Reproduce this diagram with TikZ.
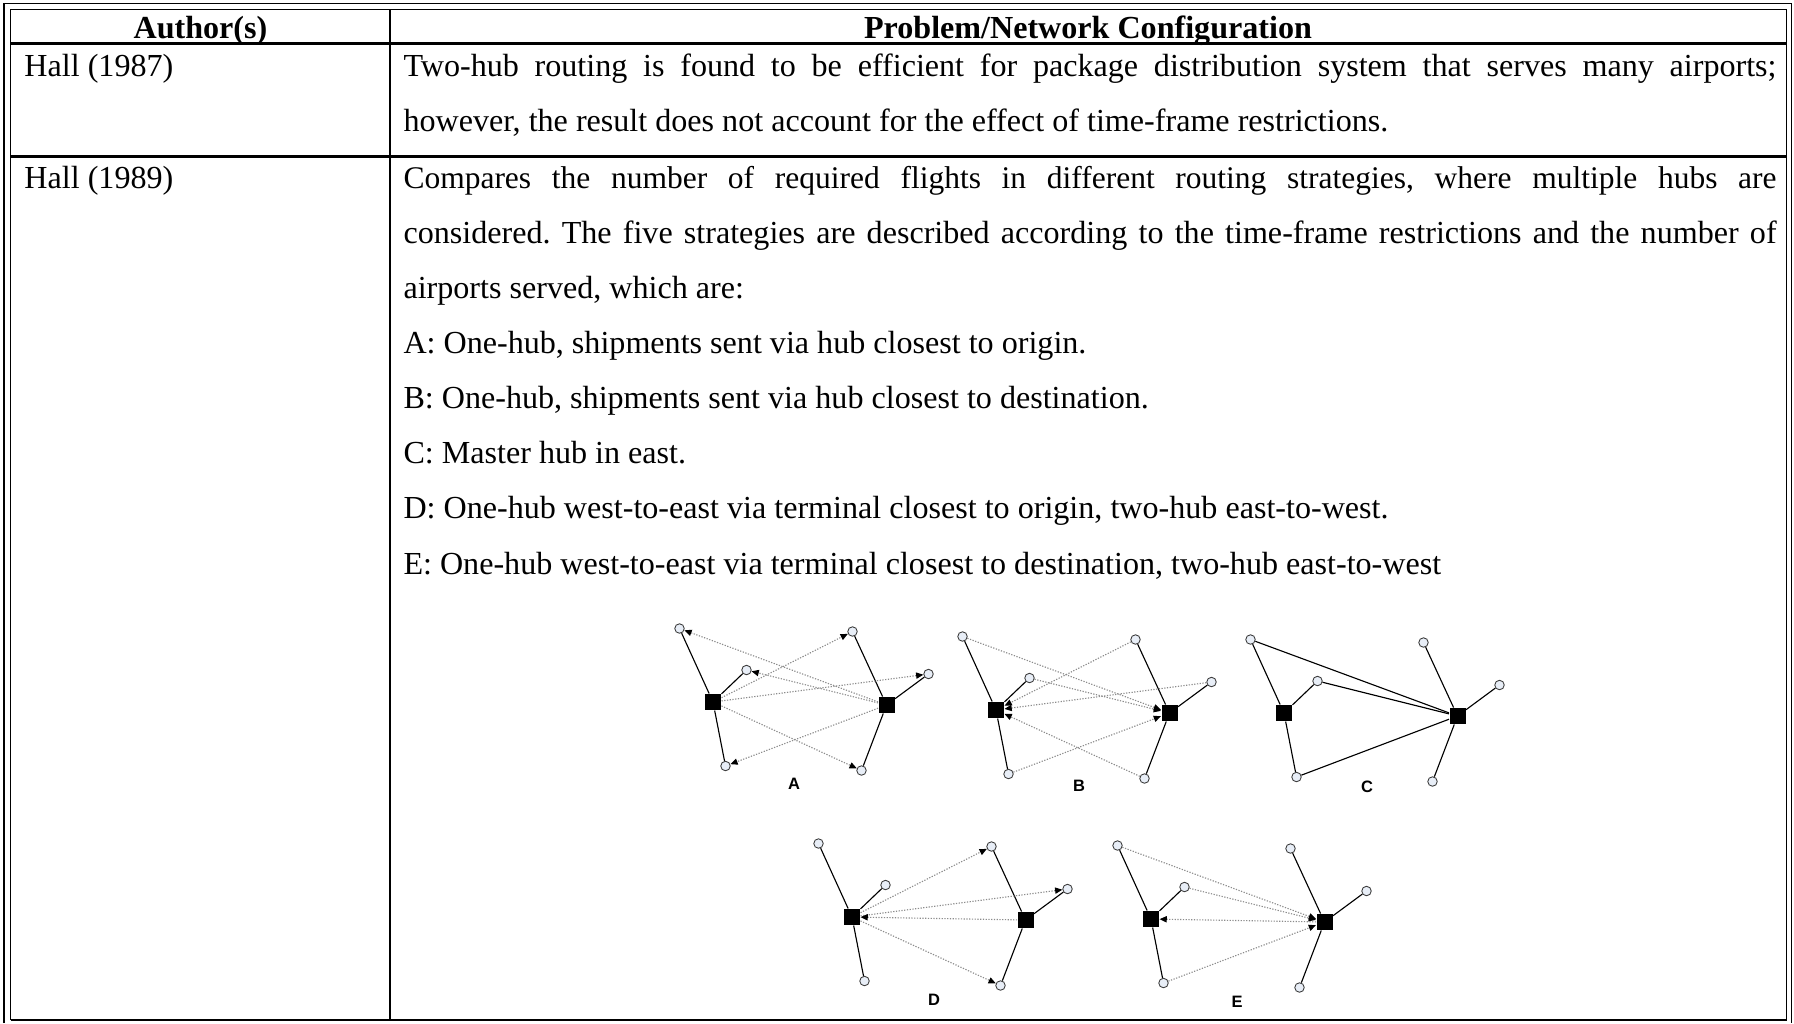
\documentclass[tikz,border=0pt]{standalone}
\usepackage{fontspec}
\setmainfont{Liberation Serif}
\newfontfamily\panelfont{Liberation Sans}
\usetikzlibrary{arrows.meta}
\frenchspacing

\definecolor{aptfill}{RGB}{232,238,247}
\definecolor{aptline}{RGB}{60,60,60}
\definecolor{flowgray}{RGB}{140,140,140}

\tikzset{
  frameline/.style={line width=0.75pt},
  rule/.style={line width=0.9pt},
  cell/.style={anchor=base west, inner sep=0pt, font=\fontsize{12.84}{15}\selectfont},
  widecell/.style={cell, font=\fontsize{12.6}{15}\selectfont},
  head/.style={anchor=base, inner sep=0pt, font=\fontsize{12.84}{15}\selectfont\bfseries},
  hub/.style={rectangle, fill=black, minimum size=6.4pt, inner sep=0pt},
  apt/.style={circle, draw=aptline, fill=aptfill, line width=0.35pt, minimum size=3.8pt, inner sep=0pt},
  link/.style={draw=black, line width=0.45pt},
  flow/.style={draw=flowgray, line width=0.45pt, dash pattern=on 0.5pt off 0.6pt,
    -{Triangle[length=2.9pt,width=2.5pt,color=black,fill=black]}},
  tag/.style={inner sep=0pt, font=\panelfont\fontsize{6.6}{7}\selectfont\bfseries},
  % two hubs with three airports each, linked by solid spokes
  panel/.pic={
    \node[hub] (-h1) at (0,0) {};
    \node[hub] (-h2) at (173.5,3) {};
    \node[apt] (-n1) at (-33.5,-73.5) {};
    \node[apt] (-n2) at (33.5,-32) {};
    \node[apt] (-n3) at (12.5,64) {};
    \node[apt] (-n4) at (139.5,-70.5) {};
    \node[apt] (-n5) at (215.5,-28) {};
    \node[apt] (-n6) at (148.5,68.5) {};
    \draw[link] (-h1) -- (-n1);
    \draw[link] (-h1) -- (-n2);
    \draw[link] (-h1) -- (-n3);
    \draw[link] (-h2) -- (-n4);
    \draw[link] (-h2) -- (-n5);
    \draw[link] (-h2) -- (-n6);
  }
}

\newcommand{\jline}[1]{\makebox[549.2pt][s]{#1}}

\begin{document}
\begin{tikzpicture}[x=0.4pt,y=-0.4pt]
\useasboundingbox (0,0) rectangle (1794,1023);

% double outer frame
\draw[frameline] (4,1023) -- (4,3.5) -- (1791.5,3.5) -- (1791.5,1023);
\draw[frameline] (10.5,1020) -- (10.5,9.5) -- (1786.5,9.5) -- (1786.5,1020);
% grid
\draw[rule] (10.5,43.5) -- (1786.5,43.5);
\draw[rule] (10.5,156.5) -- (1786.5,156.5);
\draw[rule] (10.5,1020) -- (1786.5,1020);
\draw[rule] (390,9.5) -- (390,1020);

% header
\node[head] (hA) at (200.5,38) {Author(s)};
\node[head] (hP) at (1088,38) {Problem/Network Configuration};

% first row
\node[cell] (r1a) at (24,76.3) {Hall (1987)};
\node[cell] (r1l1) at (403,76.3) {\jline{Two-hub routing is found to be efficient for package distribution system that serves many airports;}};
\node[cell] (r1l2) at (403,131.3) {however, the result does not account for the effect of time-frame restrictions.};

% second row
\node[cell] (r2a) at (24,188.3) {Hall (1989)};
\node[widecell] (r2l1) at (403,188.3) {\jline{Compares the number of required flights in different routing strategies, where multiple hubs are}};
\node[cell] (r2l2) at (403,243.4) {\jline{considered. The five strategies are described according to the time-frame restrictions and the number of}};
\node[cell] (r2l3) at (403,298.5) {airports served, which are:};
\node[cell] (r2l4) at (403,353.6) {A: One-hub, shipments sent via hub closest to origin.};
\node[cell] (r2l5) at (403,408.7) {B: One-hub, shipments sent via hub closest to destination.};
\node[cell] (r2l6) at (403,463.8) {C: Master hub in east.};
\node[cell] (r2l7) at (403,518.9) {D: One-hub west-to-east via terminal closest to origin, two-hub east-to-west.};
\node[cell] (r2l8) at (403,574) {E: One-hub west-to-east via terminal closest to destination, two-hub east-to-west};

% strategy panels
\pic (A) at (713,702) {panel};
\pic (B) at (996,710) {panel};
\pic (C) at (1284,713) {panel};
\pic (D) at (852,917) {panel};
\pic (E) at (1151,919) {panel};

% A: via hub closest to origin
\draw[flow] (A-h1) -- (A-n4);
\draw[flow] (A-h1) -- (A-n5);
\draw[flow] (A-h1) -- (A-n6);
\draw[flow] (A-h2) -- (A-n1);
\draw[flow] (A-h2) -- (A-n2);
\draw[flow] (A-h2) -- (A-n3);
% B: via hub closest to destination
\draw[flow] (B-n1) -- (B-h2);
\draw[flow] (B-n2) -- (B-h2);
\draw[flow] (B-n3) -- (B-h2);
\draw[flow] (B-n4) -- (B-h1);
\draw[flow] (B-n5) -- (B-h1);
\draw[flow] (B-n6) -- (B-h1);
% C: master hub in east
\draw[link] (C-n1) -- (C-h2);
\draw[link] (C-n2) -- (C-h2);
\draw[link] (C-n3) -- (C-h2);
% D
\draw[flow] (D-h1) -- (D-n4);
\draw[flow] (D-h1) -- (D-n5);
\draw[flow] (D-h1) -- (D-n6);
\draw[flow] (D-h2) -- (D-h1);
% E
\draw[flow] (E-n1) -- (E-h2);
\draw[flow] (E-n2) -- (E-h2);
\draw[flow] (E-n3) -- (E-h2);
\draw[flow] (E-h2) -- (E-h1);

\node[tag] (tA) at (794,784) {A};
\node[tag] (tB) at (1079,786) {B};
\node[tag] (tC) at (1367,787) {C};
\node[tag] (tD) at (934,1000) {D};
\node[tag] (tE) at (1237,1002) {E};
\end{tikzpicture}
\end{document}
